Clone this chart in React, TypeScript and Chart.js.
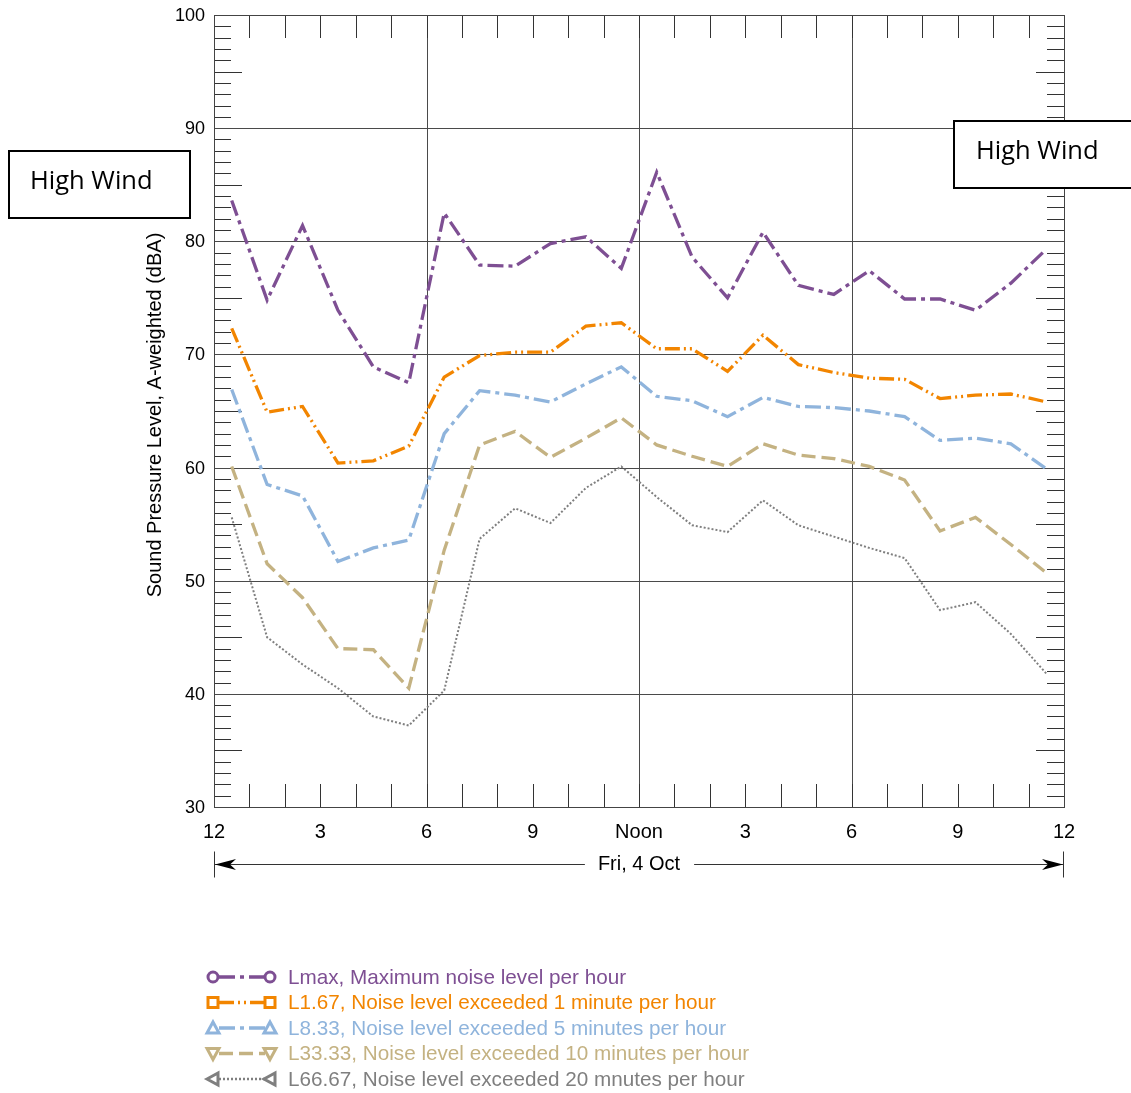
import React, { useEffect, useRef } from "react";
import { Chart, registerables } from "chart.js";

Chart.register(...registerables);

const hours = [0.5, 1.5, 2.5, 3.5, 4.5, 5.5, 6.5, 7.5, 8.5, 9.5, 10.5, 11.5, 12.5, 13.5, 14.5, 15.5, 16.5, 17.5, 18.5, 19.5, 20.5, 21.5, 22.5, 23.5];

const lmax = [83.6, 74.8, 81.4, 73.9, 68.9, 67.5, 82.5, 77.9, 77.8, 79.8, 80.4, 77.6, 86.1, 78.6, 75.0, 80.8, 76.1, 75.3, 77.4, 74.9, 74.9, 73.9, 76.3, 79.3];
const l167 = [72.3, 64.9, 65.4, 60.4, 60.6, 61.9, 68.0, 69.9, 70.2, 70.2, 72.5, 72.8, 70.5, 70.5, 68.5, 71.7, 69.1, 68.4, 67.9, 67.8, 66.1, 66.4, 66.5, 65.8];
const l833 = [66.9, 58.5, 57.5, 51.7, 52.9, 53.6, 63.0, 66.8, 66.4, 65.8, 67.4, 68.9, 66.3, 65.9, 64.5, 66.2, 65.4, 65.3, 65.0, 64.5, 62.4, 62.6, 62.1, 59.9];
const l3333 = [60.1, 51.5, 48.5, 44.0, 43.9, 40.5, 52.7, 62.0, 63.2, 60.9, 62.6, 64.4, 62.0, 61.0, 60.1, 62.1, 61.1, 60.8, 60.1, 58.9, 54.4, 55.6, 53.2, 50.7];
const l6667 = [55.6, 45.0, 42.6, 40.5, 38.0, 37.2, 40.3, 53.7, 56.4, 55.1, 58.2, 60.1, 57.4, 54.9, 54.3, 57.1, 54.9, 53.9, 52.9, 52.0, 47.4, 48.1, 45.3, 41.8];

const xTickValues = [0, 3, 6, 9, 12, 15, 18, 21, 24];
const xTickLabels = ["12", "3", "6", "9", "Noon", "3", "6", "9", "12"];
const yTickValues = [30, 40, 50, 60, 70, 80, 90, 100];

const seriesNames = [
  "Lmax, Maximum noise level per hour",
  "L1.67, Noise level exceeded 1 minute per hour",
  "L8.33, Noise level exceeded 5 minutes per hour",
  "L33.33, Noise level exceeded 10 minutes per hour",
  "L66.67, Noise level exceeded 20 mnutes per hour",
];
const seriesValues = [lmax, l167, l833, l3333, l6667];
const seriesColors = ["#7E4F93", "#F28500", "#8FB4DC", "#C4B282", "#7F7F7F"];
const seriesDashes = [
  [16, 5, 4, 5],
  [15, 4, 2, 4, 2, 4],
  [16, 5, 4, 5],
  [14, 6],
  [2, 2],
];
const seriesWidths = [3.3, 3.3, 3.3, 3.3, 2];
const seriesMarkers = ["circle", "square", "triUp", "triDown", "triLeft"];

const dayLabel = "Fri, 4 Oct";
const yTitle = "Sound Pressure Level, A-weighted (dBA)";
const windLabel = "High Wind";

const AX = "Liberation Sans, Arial, sans-serif";

function drawMarker(ctx: CanvasRenderingContext2D, kind: string, x: number, y: number, color: string) {
  ctx.save();
  ctx.setLineDash([]);
  ctx.strokeStyle = color;
  ctx.fillStyle = "#fff";
  ctx.lineWidth = 3;
  ctx.lineJoin = "miter";
  ctx.beginPath();
  if (kind === "circle") {
    ctx.arc(x, y, 5, 0, Math.PI * 2);
  } else if (kind === "square") {
    ctx.rect(x - 5, y - 5, 10, 10);
  } else if (kind === "triUp") {
    ctx.moveTo(x, y - 6);
    ctx.lineTo(x + 6, y + 5);
    ctx.lineTo(x - 6, y + 5);
    ctx.closePath();
  } else if (kind === "triDown") {
    ctx.moveTo(x, y + 6);
    ctx.lineTo(x + 6, y - 5);
    ctx.lineTo(x - 6, y - 5);
    ctx.closePath();
  } else {
    ctx.moveTo(x - 6, y);
    ctx.lineTo(x + 5, y - 6);
    ctx.lineTo(x + 5, y + 6);
    ctx.closePath();
  }
  ctx.fill();
  ctx.stroke();
  ctx.restore();
}

const framePlugin = {
  id: "frame",
  beforeDraw(chart: any) {
    const ctx = chart.ctx;
    ctx.save();
    ctx.fillStyle = "#fff";
    ctx.fillRect(0, 0, chart.width, chart.height);
    ctx.restore();
  },
  beforeDatasetsDraw(chart: any) {
    const ctx: CanvasRenderingContext2D = chart.ctx;
    const { left, right, top, bottom } = chart.chartArea;
    const xs = chart.scales.x;
    const ys = chart.scales.y;
    ctx.save();
    ctx.lineWidth = 1;
    ctx.strokeStyle = "#4a4a4a";
    for (let h = 6; h < 24; h += 6) {
      const px = Math.round(xs.getPixelForValue(h)) + 0.5;
      ctx.beginPath();
      ctx.moveTo(px, top);
      ctx.lineTo(px, bottom);
      ctx.stroke();
    }
    for (const v of yTickValues) {
      if (v === 30 || v === 100) continue;
      const py = Math.round(ys.getPixelForValue(v)) + 0.5;
      ctx.beginPath();
      ctx.moveTo(left, py);
      ctx.lineTo(right, py);
      ctx.stroke();
    }
    ctx.strokeStyle = "#333";
    for (let h = 1; h < 24; h++) {
      const px = Math.round(xs.getPixelForValue(h)) + 0.5;
      ctx.beginPath();
      ctx.moveTo(px, top);
      ctx.lineTo(px, top + 23);
      ctx.moveTo(px, bottom);
      ctx.lineTo(px, bottom - 23);
      ctx.stroke();
    }
    for (let v = 31; v < 100; v++) {
      if (v % 10 === 0) continue;
      const len = v % 5 === 0 ? 28 : 17;
      const py = Math.round(ys.getPixelForValue(v)) + 0.5;
      ctx.beginPath();
      ctx.moveTo(left, py);
      ctx.lineTo(left + len, py);
      ctx.moveTo(right, py);
      ctx.lineTo(right - len, py);
      ctx.stroke();
    }
    ctx.strokeStyle = "#444";
    ctx.strokeRect(Math.round(left) + 0.5, Math.round(top) + 0.5, Math.round(right - left), Math.round(bottom - top));
    ctx.restore();
  },
  afterDraw(chart: any) {
    const ctx: CanvasRenderingContext2D = chart.ctx;
    const { left, right, top, bottom } = chart.chartArea;
    const xs = chart.scales.x;
    const ys = chart.scales.y;
    ctx.save();
    ctx.fillStyle = "#000";
    ctx.font = `18px ${AX}`;
    ctx.textAlign = "right";
    ctx.textBaseline = "middle";
    for (const v of yTickValues) {
      ctx.fillText(String(v), left - 9, ys.getPixelForValue(v) + 1);
    }
    ctx.font = `20px ${AX}`;
    ctx.textAlign = "center";
    xTickValues.forEach((h, i) => {
      ctx.fillText(xTickLabels[i], xs.getPixelForValue(h), bottom + 25);
    });
    ctx.save();
    ctx.translate(155, (top + bottom) / 2 + 4);
    ctx.rotate(-Math.PI / 2);
    ctx.font = `20px ${AX}`;
    ctx.textAlign = "center";
    ctx.fillText(yTitle, 0, 0);
    ctx.restore();
    const ay = bottom + 57.5;
    const cx = (left + right) / 2;
    ctx.font = `20px ${AX}`;
    const tw = ctx.measureText(dayLabel).width;
    ctx.strokeStyle = "#333";
    ctx.lineWidth = 1;
    ctx.beginPath();
    ctx.moveTo(left, ay);
    ctx.lineTo(cx - tw / 2 - 13, ay);
    ctx.moveTo(cx + tw / 2 + 14, ay);
    ctx.lineTo(right, ay);
    ctx.moveTo(Math.round(left) + 0.5, ay - 13);
    ctx.lineTo(Math.round(left) + 0.5, ay + 13);
    ctx.moveTo(Math.round(right) - 0.5, ay - 13);
    ctx.lineTo(Math.round(right) - 0.5, ay + 13);
    ctx.stroke();
    ctx.fillStyle = "#000";
    ctx.beginPath();
    ctx.moveTo(left + 1, ay);
    ctx.lineTo(left + 22, ay - 5.5);
    ctx.lineTo(left + 16, ay);
    ctx.lineTo(left + 22, ay + 5.5);
    ctx.closePath();
    ctx.fill();
    ctx.beginPath();
    ctx.moveTo(right - 1, ay);
    ctx.lineTo(right - 22, ay - 5.5);
    ctx.lineTo(right - 16, ay);
    ctx.lineTo(right - 22, ay + 5.5);
    ctx.closePath();
    ctx.fill();
    ctx.textAlign = "center";
    ctx.textBaseline = "middle";
    ctx.fillText(dayLabel, cx, ay);
    const boxes = [
      [9, 151, 181, 67, 30],
      [954, 121, 200, 67, 976],
    ];
    for (const [bx, by, bw, bh, tx] of boxes) {
      ctx.fillStyle = "#fff";
      ctx.fillRect(bx, by, bw, bh);
      ctx.strokeStyle = "#000";
      ctx.lineWidth = 2;
      ctx.strokeRect(bx, by, bw, bh);
      ctx.fillStyle = "#000";
      ctx.font = `25.5px "Open Sans", sans-serif`;
      ctx.textAlign = "left";
      ctx.textBaseline = "middle";
      ctx.fillText(windLabel, tx, by + bh / 2 - 3);
    }
    const rowY = [977, 1002.5, 1028, 1053.5, 1079];
    seriesNames.forEach((name, i) => {
      const y = rowY[i];
      const c = seriesColors[i];
      ctx.save();
      ctx.strokeStyle = c;
      ctx.lineWidth = i === 4 ? 2.5 : 3.5;
      ctx.setLineDash(seriesDashes[i]);
      ctx.beginPath();
      ctx.moveTo(219, y);
      ctx.lineTo(265, y);
      ctx.stroke();
      ctx.restore();
      drawMarker(ctx, seriesMarkers[i], 213, y, c);
      drawMarker(ctx, seriesMarkers[i], 270, y, c);
      ctx.fillStyle = c;
      ctx.font = `20.7px ${AX}`;
      ctx.textAlign = "left";
      ctx.textBaseline = "middle";
      ctx.fillText(name, 288, y + 1);
    });
    ctx.restore();
  },
};

export default function App() {
  const ref = useRef<HTMLCanvasElement | null>(null);
  useEffect(() => {
    document.body.style.margin = "0";
    const canvas = ref.current;
    if (!canvas) return;
    const chart = new Chart(canvas, {
      type: "line",
      data: {
        datasets: seriesValues.map((vals, i) => ({
          label: seriesNames[i],
          data: vals.map((v, j) => ({ x: hours[j], y: v })),
          borderColor: seriesColors[i],
          borderWidth: seriesWidths[i],
          borderDash: seriesDashes[i],
          borderCapStyle: "butt",
          borderJoinStyle: "miter",
          pointRadius: 0,
          fill: false,
          tension: 0,
        })),
      },
      options: {
        animation: false,
        responsive: false,
        devicePixelRatio: 1,
        layout: { padding: { left: 214, right: 67, top: 15, bottom: 286 } },
        plugins: { legend: { display: false }, tooltip: { enabled: false } },
        scales: {
          x: { type: "linear", min: 0, max: 24, display: false },
          y: { type: "linear", min: 30, max: 100, display: false },
        },
      },
      plugins: [framePlugin],
    } as any);
    return () => chart.destroy();
  }, []);
  return <canvas ref={ref} width={1131} height={1093} style={{ display: "block" }} />;
}
